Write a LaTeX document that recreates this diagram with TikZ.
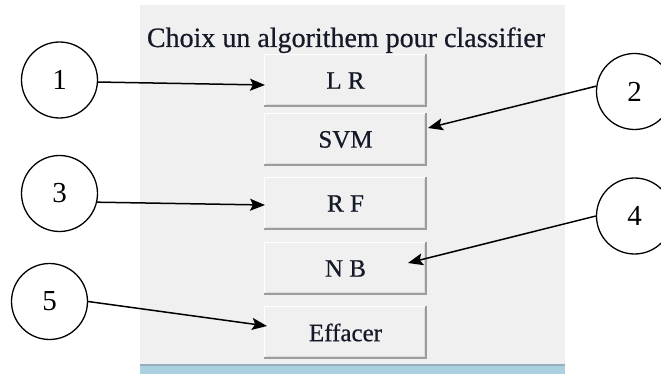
\documentclass[tikz,border=0pt]{standalone}
\usepackage{fontspec}
\setmainfont{Liberation Serif}
\newfontfamily\heavyfont{Liberation Serif}[FakeBold=0.6]
\usetikzlibrary{arrows.meta}
\definecolor{panelgray}{HTML}{F0F0F0}
\definecolor{stripblue}{HTML}{ABD1E0}
\definecolor{stripline}{HTML}{98AEBE}
\definecolor{btnshadow}{HTML}{9C9C9C}
\definecolor{btninner}{HTML}{DCDCDC}
\definecolor{txt}{HTML}{151A28}
\tikzset{
  btn/.style={fill=panelgray, minimum width=163pt, minimum height=53pt, inner sep=0pt,
    font=\heavyfont\fontsize{25}{28}\selectfont, text=txt},
  num/.style={circle, draw=black, line width=1.3pt, fill=white, minimum size=76pt, inner sep=0pt,
    font=\fontsize{29}{32}\selectfont},
  arr/.style={line width=1.5pt, -{Stealth[length=15pt,width=12pt,inset=3pt]}},
}
\begin{document}
\begin{tikzpicture}[x=1pt,y=-1pt]
\useasboundingbox (0,0) rectangle (661,374);
\clip (0,0) rectangle (661,374);
% panel
\fill[panelgray] (140,5) rectangle (565,364);
\fill[stripblue] (140,366) rectangle (565,374);
\draw[stripline, line width=2pt] (140,365) -- (565,365);
% title
\node[anchor=base, font=\heavyfont\fontsize{28}{32}\selectfont, text=txt, inner sep=0pt] (title) at (346,47) {Choix un algorithem pour classifier};
% buttons
\node[btn] (lr)  at (345.5,80.5)  {L R};
\node[btn] (svm) at (345.5,139.5) {SVM};
\node[btn] (rf)  at (345.5,203.5) {R F};
\node[btn] (nb)  at (345.5,268.5) {N B};
\node[btn] (eff) at (345.5,332.5) {Effacer};
\foreach \n in {lr,svm,rf,nb,eff}{
  \draw[white, line width=1.5pt] ([xshift=0.75pt]\n.south west) -- ([xshift=0.75pt,yshift=-0.75pt]\n.north west) -- ([yshift=-0.75pt]\n.north east);
  \draw[btninner, line width=1pt] ([xshift=2pt,yshift=2.5pt]\n.south west) -- ([xshift=-2.5pt,yshift=2.5pt]\n.south east) -- ([xshift=-2.5pt,yshift=-2pt]\n.north east);
  \draw[btnshadow, line width=2pt] ([yshift=1pt]\n.south west) -- ([xshift=-1pt,yshift=1pt]\n.south east) -- ([xshift=-1pt]\n.north east);
}
% numbered circles
\node[num] (c1) at (59.5,80)   {1};
\node[num] (c2) at (634.5,91.5) {2};
\node[num] (c3) at (59.5,193.5) {3};
\node[num] (c4) at (634.5,216) {4};
\node[num] (c5) at (49.5,301.5) {5};
% arrow tips
\coordinate (t1) at (265,85);
\coordinate (t2) at (428,128);
\coordinate (t3) at (265,205);
\coordinate (t4) at (408,263);
\coordinate (t5) at (267,326);
\draw[arr] (c1.-3) -- (t1);
\draw[arr] (c2.172) -- (t2);
\draw[arr] (c3.-13) -- (t3);
\draw[arr] (c4.180) -- (t4);
\draw[arr] (c5.0) -- (t5);
\end{tikzpicture}
\end{document}
